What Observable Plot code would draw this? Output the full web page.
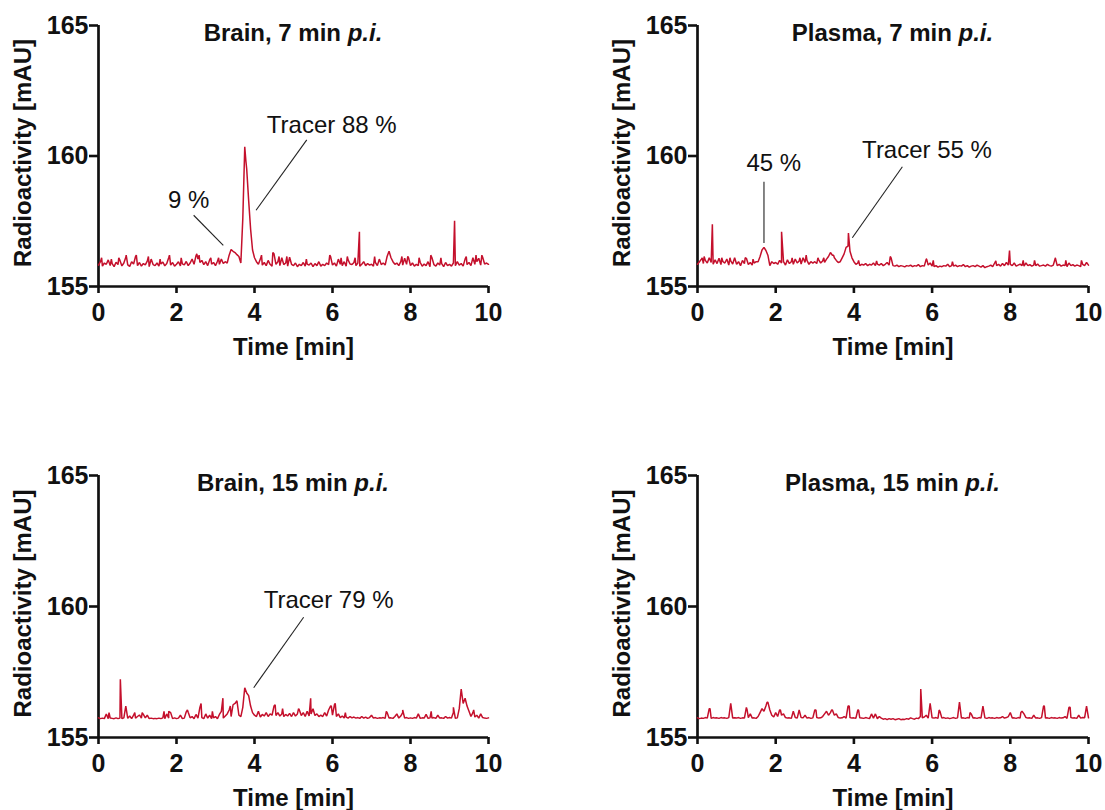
<!DOCTYPE html>
<html>
<head>
<meta charset="utf-8">
<script src="https://cdn.jsdelivr.net/npm/d3@7"></script>
<script src="https://cdn.jsdelivr.net/npm/@observablehq/plot@0.6"></script>
<style>
  html, body { margin: 0; padding: 0; background: #fff; }
  #root { position: relative; width: 1105px; height: 810px; background: #fff; font-family: "Liberation Sans", Arial, sans-serif; }
  .panel { position: absolute; }
  .title { position: absolute; text-align: center; font-size: 24px; font-weight: bold; line-height: 28px; color: #111; white-space: nowrap; }
  svg { overflow: visible; }
</style>
</head>
<body>
<div id="root"></div>
<script>
// ---------- data ----------
const times = [
0,0.05,0.1,0.15,0.2,0.25,0.3,0.35,0.4,0.45,0.5,0.55,0.6,0.65,0.7,0.75,0.8,0.85,0.9,0.95,
1,1.05,1.1,1.15,1.2,1.25,1.3,1.35,1.4,1.45,1.5,1.55,1.6,1.65,1.7,1.75,1.8,1.85,1.9,1.95,
2,2.05,2.1,2.15,2.2,2.25,2.3,2.35,2.4,2.45,2.5,2.55,2.6,2.65,2.7,2.75,2.8,2.85,2.9,2.95,
3,3.05,3.1,3.15,3.2,3.25,3.3,3.35,3.4,3.45,3.5,3.55,3.6,3.65,3.7,3.75,3.8,3.85,3.9,3.95,
4,4.05,4.1,4.15,4.2,4.25,4.3,4.35,4.4,4.45,4.5,4.55,4.6,4.65,4.7,4.75,4.8,4.85,4.9,4.95,
5,5.05,5.1,5.15,5.2,5.25,5.3,5.35,5.4,5.45,5.5,5.55,5.6,5.65,5.7,5.75,5.8,5.85,5.9,5.95,
6,6.05,6.1,6.15,6.2,6.25,6.3,6.35,6.4,6.45,6.5,6.55,6.6,6.65,6.7,6.75,6.8,6.85,6.9,6.95,
7,7.05,7.1,7.15,7.2,7.25,7.3,7.35,7.4,7.45,7.5,7.55,7.6,7.65,7.7,7.75,7.8,7.85,7.9,7.95,
8,8.05,8.1,8.15,8.2,8.25,8.3,8.35,8.4,8.45,8.5,8.55,8.6,8.65,8.7,8.75,8.8,8.85,8.9,8.95,
9,9.05,9.1,9.15,9.2,9.25,9.3,9.35,9.4,9.45,9.5,9.55,9.6,9.65,9.7,9.75,9.8,9.85,9.9,9.95,10
];

// Brain, 7 min p.i.
const brain7 = [
155.82,155.95,155.78,155.9,155.85,156.02,155.8,155.88,155.76,155.93,155.84,156.0,155.79,155.9,156.12,155.83,155.77,155.95,155.86,156.15,
155.8,155.92,155.78,155.88,155.83,155.97,155.76,156.05,155.84,155.8,155.9,155.78,155.86,155.94,155.79,155.88,156.1,155.82,155.92,155.78,
155.85,155.95,155.79,155.87,155.83,155.96,155.8,155.9,156.05,155.85,156.18,156.05,155.92,156.0,155.84,155.95,155.8,156.02,155.86,155.92,
155.8,155.97,155.85,156.05,155.88,155.95,155.9,156.2,156.42,156.35,156.3,156.22,156.15,155.9,157.6,160.35,159.5,158.3,157.2,156.4,
156.1,155.95,155.85,156.05,155.82,155.92,155.8,156.0,155.85,155.78,156.25,155.85,155.95,155.8,156.1,155.84,155.9,155.78,156.12,155.85,
155.8,155.9,155.76,155.85,155.8,155.92,155.78,155.86,155.82,155.9,155.76,155.88,155.8,155.95,155.78,155.85,155.8,155.9,155.84,156.15,
155.82,155.9,155.78,156.05,155.85,155.8,155.95,155.78,156.02,155.86,155.84,155.92,155.8,155.9,155.78,155.85,155.95,155.8,155.88,155.82,
155.85,155.78,155.92,155.8,156.05,155.84,155.9,155.82,156.15,156.35,156.1,155.95,155.85,155.9,155.8,155.95,155.82,156.08,155.85,156.1,
155.8,155.9,155.78,155.85,155.8,155.92,155.78,155.86,155.8,155.95,155.76,156.1,155.84,155.78,155.9,155.82,155.88,155.76,155.92,155.8,
155.85,155.78,155.9,155.8,155.95,155.82,155.88,155.78,156.05,155.84,155.92,155.8,156.1,155.85,155.95,156.08,155.82,156.12,155.86,155.9,155.85
];
const brain7Spikes = [[0.08,156.1],[0.33,156.05],[0.52,156.1],[0.71,156.2],[0.97,156.2],[1.28,156.15],[1.58,156.05],[1.82,156.2],[2.12,156.1],[2.52,156.25],[2.58,156.2],[2.88,156.1],[3.08,156.1],[3.78,159.8],[4.18,156.2],[4.47,156.3],[4.63,156.15],[4.83,156.15],[5.33,156.05],[5.93,156.2],[6.22,156.1],[6.38,156.15],[6.58,156.1],[6.69,157.1],[7.08,156.15],[7.78,156.15],[7.93,156.15],[8.22,156.1],[8.52,156.2],[8.78,156.1],[9.13,157.52],[9.43,156.15],[9.68,156.2],[9.83,156.2]];

// Plasma, 7 min p.i.
const plasma7 = [
155.85,155.95,156.05,155.88,156.0,155.9,156.1,155.92,155.85,156.02,155.88,156.08,155.84,155.95,155.9,156.05,155.82,155.98,155.86,156.1,
155.85,155.95,155.8,156.0,155.88,156.08,155.84,155.92,155.82,155.9,155.95,155.95,156.15,156.4,156.5,156.38,156.2,155.8,155.95,155.88,
155.92,155.85,156.0,155.9,155.95,155.82,156.02,155.88,155.95,155.85,156.05,155.9,155.98,155.86,156.1,155.92,156.0,155.85,155.95,155.9,
155.95,155.88,156.02,155.9,155.98,155.92,156.05,156.15,156.3,156.2,156.1,156.0,155.92,155.95,156.1,156.25,156.5,156.55,156.35,156.1,
155.95,155.85,155.9,155.8,155.85,155.82,155.88,155.8,155.85,155.82,155.9,155.8,155.86,155.82,155.88,155.8,155.85,155.92,155.82,156.1,
155.8,155.78,155.82,155.76,155.8,155.78,155.75,155.8,155.78,155.82,155.76,155.8,155.78,155.84,155.76,155.8,155.78,156.05,155.82,155.9,
155.78,155.76,155.8,155.74,155.78,155.76,155.8,155.78,155.85,155.76,155.8,155.78,155.82,155.76,155.8,155.78,155.84,155.76,155.8,155.74,
155.78,155.8,155.76,155.82,155.78,155.74,155.8,155.72,155.76,155.78,155.82,155.76,155.9,155.8,155.85,155.78,155.88,155.8,155.92,155.82,
155.85,155.8,155.9,155.78,155.82,155.86,155.8,155.78,155.9,155.8,155.84,155.78,155.82,155.8,155.86,155.78,155.8,155.82,155.78,155.85,
155.8,155.78,155.82,156.08,155.8,155.85,155.78,155.82,155.8,155.76,155.9,155.8,155.84,155.78,155.82,155.8,155.76,155.85,155.8,155.92,155.82
];
const plasma7Spikes = [[0.12,156.1],[0.17,156.15],[0.38,157.38],[0.62,156.1],[0.83,156.1],[1.22,156.1],[1.42,156.05],[2.15,157.1],[2.42,156.1],[2.62,156.1],[2.78,156.2],[3.08,156.1],[3.23,156.1],[3.48,156.2],[3.86,157.05],[4.12,156.0],[4.58,155.98],[4.93,156.15],[5.86,156.05],[6.03,156.0],[6.52,155.95],[7.63,155.98],[7.98,156.38],[8.33,156.0],[8.62,156.0],[9.15,156.1],[9.42,156.0],[9.82,156.0]];

// Brain, 15 min p.i.
const brain15 = [
155.75,155.72,155.74,155.72,155.9,155.72,155.74,155.73,155.72,155.75,155.72,155.74,155.72,155.75,156.2,155.73,155.82,155.72,155.85,155.74,
155.8,155.86,155.74,155.88,155.75,155.85,155.72,155.74,155.72,155.73,155.72,155.74,155.72,155.75,155.72,155.9,155.74,155.95,155.72,155.75,
155.72,155.74,155.85,155.72,155.74,155.98,155.96,155.75,155.8,155.72,155.88,155.74,156.15,155.76,155.72,155.9,155.74,155.85,155.72,155.75,
155.8,155.72,155.88,156.0,155.74,155.82,155.9,156.05,155.8,156.25,156.3,156.4,155.85,155.8,156.15,156.9,156.7,156.6,156.2,155.95,
155.85,155.8,156.0,155.78,155.88,155.82,155.95,155.8,155.9,155.85,156.2,155.84,155.95,155.82,155.9,155.8,155.88,155.82,155.92,155.8,
155.95,155.82,155.9,156.05,155.84,155.95,155.8,156.0,155.82,155.9,156.1,155.84,155.9,155.8,155.85,155.8,155.95,155.82,156.05,156.2,
155.85,156.25,155.8,155.9,155.76,155.82,155.74,155.78,155.74,155.8,155.75,155.78,155.74,155.76,155.73,155.8,155.74,155.78,155.73,155.76,
155.85,155.74,155.76,155.73,155.75,155.74,155.76,155.73,155.95,155.74,155.75,155.73,155.8,155.9,155.74,155.82,155.95,155.74,155.76,155.73,
155.75,155.73,155.76,155.74,155.9,155.73,155.75,155.74,155.88,155.73,155.75,155.74,155.76,155.73,155.85,155.74,155.75,155.73,155.8,155.74,
155.76,155.74,155.95,155.73,155.75,156.1,156.85,156.3,156.5,156.2,156.0,155.8,155.95,155.78,155.85,155.74,155.9,155.76,155.74,155.73,155.75
];
const brain15Spikes = [[0.27,155.95],[0.56,157.22],[0.93,155.95],[1.12,155.95],[1.68,156.0],[1.8,156.0],[2.28,156.05],[2.63,156.3],[2.92,156.0],[3.19,156.5],[3.38,156.2],[4.53,156.25],[4.72,156.1],[5.13,156.1],[5.44,156.5],[5.97,156.2],[6.07,156.3],[6.33,155.95],[7.38,156.0],[7.8,156.05],[8.53,156.0],[9.1,156.15],[9.62,156.05]];

// Plasma, 15 min p.i.
const plasma15 = [
155.75,155.72,155.74,155.73,155.76,155.74,156.1,155.73,155.76,155.74,155.75,155.73,155.76,155.74,155.75,155.73,155.76,156.3,155.74,155.75,
155.74,155.76,155.73,155.75,155.74,156.15,155.76,155.9,155.74,155.75,155.73,155.8,155.95,156.1,156.0,156.2,156.35,156.05,155.85,155.78,
155.95,155.8,156.05,155.85,155.9,155.76,155.74,155.75,155.73,156.0,155.76,155.74,156.05,155.76,155.75,155.85,155.74,155.76,155.73,155.75,
156.05,155.76,155.74,155.75,155.8,155.9,156.0,155.85,155.95,156.05,155.85,155.9,155.76,155.74,155.75,155.8,155.74,156.2,155.76,155.74,
155.75,155.73,156.05,155.75,155.74,155.73,155.76,155.74,155.72,155.9,155.74,155.9,155.72,155.8,155.74,155.7,155.72,155.68,155.72,155.7,
155.72,155.68,155.7,155.72,155.68,155.7,155.69,155.72,155.7,155.75,155.72,155.7,155.74,155.72,155.8,155.75,155.78,155.85,155.74,156.3,
155.75,155.74,155.76,155.73,156.0,155.74,155.76,155.73,155.75,155.72,155.74,155.76,155.73,155.75,156.35,155.74,155.75,155.73,155.76,155.74,
155.9,155.74,155.75,155.73,155.76,155.74,156.2,155.75,155.73,155.76,155.74,155.75,155.73,155.76,155.74,155.75,155.8,155.74,155.76,155.8,
155.95,155.74,155.75,155.73,155.76,155.74,156.0,155.9,155.76,155.74,155.75,155.73,155.85,155.74,155.75,155.73,155.76,156.2,155.74,155.75,
155.73,155.76,155.74,155.75,155.73,155.76,155.74,155.75,155.8,155.73,156.15,155.76,155.74,155.75,155.73,155.85,155.74,155.76,155.75,156.2,155.75
];
const plasma15Spikes = [[0.32,156.1],[1.27,156.05],[1.78,156.35],[2.12,156.05],[3.03,156.05],[3.43,156.05],[3.88,156.2],[4.12,156.05],[5.71,156.85],[6.18,156.05],[6.97,155.95],[8.27,155.95],[8.87,156.2],[9.53,156.15]];

// panel titles
const titleMain = ["Brain, 7 min ", "Plasma, 7 min ", "Brain, 15 min ", "Plasma, 15 min "];
const titleItalic = "p.i.";

// annotations: label, text position (x, y), leader line (x1, y1) -> (x2, y2)
const annoBrain7 = [
  {label: "9 %", tx: 2.31, ty: 158.31, x1: 2.44, y1: 157.73, x2: 3.2, y2: 156.58},
  {label: "Tracer 88 %", tx: 5.98, ty: 161.19, x1: 5.34, y1: 160.62, x2: 4.04, y2: 157.92}
];
const annoPlasma7 = [
  {label: "45 %", tx: 1.95, ty: 159.72, x1: 1.7, y1: 159.01, x2: 1.7, y2: 156.67},
  {label: "Tracer 55 %", tx: 5.87, ty: 160.23, x1: 5.24, y1: 159.59, x2: 3.96, y2: 156.87}
];
const annoBrain15 = [
  {label: "Tracer 79 %", tx: 5.9, ty: 160.25, x1: 5.26, y1: 159.59, x2: 3.98, y2: 156.9}
];
const annoPlasma15 = [];

const xTicks = [0, 2, 4, 6, 8, 10];
const yTicks = [155, 160, 165];
const xLabel = "Time [min]";
const yLabel = "Radioactivity [mAU]";

// ---------- drawing ----------
const FONT = '"Liberation Sans", Arial, Helvetica, sans-serif';
const RED = "#c4102c";

function buildRows(vals, spikes) {
  if (vals.length !== times.length) throw new Error("length mismatch " + vals.length);
  const rows = vals.map((v, i) => ({t: times[i], v}));
  spikes.forEach(([t, v]) => rows.push({t, v}));
  rows.sort((a, b) => a.t - b.t);
  return rows;
}

const panels = [
  {vals: brain7, spikes: brain7Spikes, anno: annoBrain7, left: 0, top: 0, ml: 98, width: 505, height: 370, mb: 84},
  {vals: plasma7, spikes: plasma7Spikes, anno: annoPlasma7, left: 600, top: 0, ml: 97, width: 505, height: 370, mb: 84},
  {vals: brain15, spikes: brain15Spikes, anno: annoBrain15, left: 0, top: 450, ml: 98, width: 505, height: 360, mb: 73},
  {vals: plasma15, spikes: plasma15Spikes, anno: annoPlasma15, left: 600, top: 450, ml: 97, width: 505, height: 360, mb: 73}
];

const root = document.getElementById("root");
panels.forEach((p, k) => {
  const div = document.createElement("div");
  div.className = "panel";
  div.style.left = p.left + "px";
  div.style.top = p.top + "px";
  div.style.width = p.width + "px";
  div.style.height = p.height + "px";
  const mr = 17;
  const chart = Plot.plot({
    width: p.width, height: p.height,
    marginLeft: p.ml, marginRight: mr, marginTop: 25, marginBottom: p.mb,
    x: {domain: [0, 10]},
    y: {domain: [155, 165]},
    style: {fontFamily: FONT, background: "transparent", overflow: "visible", color: "#111"},
    marks: [
      Plot.axisX({ticks: xTicks, tickSize: 7, tickPadding: 10, fontSize: 25, fontWeight: "bold", strokeWidth: 2.6, label: null, tickFormat: d => String(d)}),
      Plot.axisY({ticks: yTicks, tickSize: 9, tickPadding: 1, fontSize: 25, fontWeight: "bold", strokeWidth: 2.6, label: null, tickFormat: d => String(d)}),
      Plot.ruleX([0], {strokeWidth: 2.7, stroke: "#111"}),
      Plot.ruleY([155], {strokeWidth: 2.7, stroke: "#111"}),
      Plot.line(buildRows(p.vals, p.spikes), {x: "t", y: "v", stroke: RED, strokeWidth: 1.5, strokeLinejoin: "miter"}),
      Plot.link(p.anno, {x1: "x1", y1: "y1", x2: "x2", y2: "y2", stroke: "#222", strokeWidth: 1.1}),
      Plot.text(p.anno, {x: "tx", y: "ty", text: "label", fontSize: 24, fill: "#111"}),
      Plot.text([xLabel], {text: d => d, frameAnchor: "bottom", lineAnchor: "middle", dy: 61, fontSize: 24, fontWeight: "bold", fill: "#111"}),
      Plot.text([yLabel], {text: d => d, frameAnchor: "left", textAnchor: "middle", lineAnchor: "middle", dx: -75, dy: -3, rotate: -90, fontSize: 24, fontWeight: "bold", fill: "#111"})
    ]
  });
  div.appendChild(chart);
  const t = document.createElement("div");
  t.className = "title";
  t.style.left = p.ml + "px";
  t.style.width = (p.width - p.ml - mr) + "px";
  t.style.top = "19px";
  t.innerHTML = titleMain[k] + "<i>" + titleItalic + "</i>";
  div.appendChild(t);
  root.appendChild(div);
});
</script>
</body>
</html>
